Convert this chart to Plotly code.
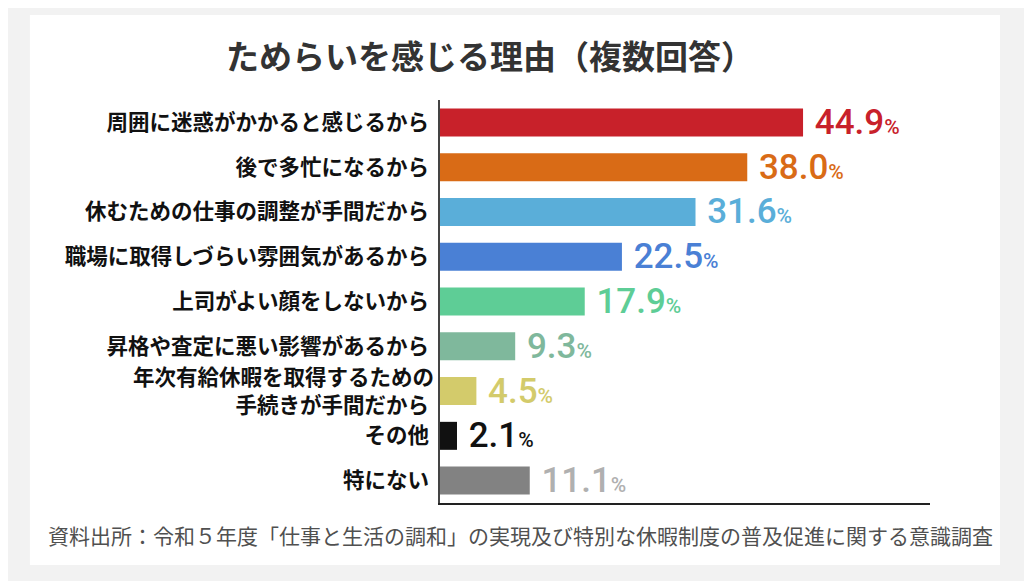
import plotly.graph_objects as go

# reasons (top to bottom) and share of respondents (%)
reasons = [
    "周囲に迷惑がかかると感じるから",
    "後で多忙になるから",
    "休むための仕事の調整が手間だから",
    "職場に取得しづらい雰囲気があるから",
    "上司がよい顔をしないから",
    "昇格や査定に悪い影響があるから",
    "年次有給休暇を取得するための<br>手続きが手間だから",
    "その他",
    "特にない",
]
shares = [44.9, 38.0, 31.6, 22.5, 17.9, 9.3, 4.5, 2.1, 11.1]

bar_colors = ["#c8212a", "#d96b16", "#5aaed9", "#4a80d5", "#5ecd96",
              "#7fb89c", "#d3cb6b", "#111111", "#828282"]
label_colors = ["#c8212a", "#d96b16", "#5aaed9", "#4a80d5", "#5ecd96",
                "#7fb89c", "#d3cb6b", "#111111", "#b0b0b0"]

labels = ["\u00a0{:.1f}<span style='font-size:21px'>%</span>".format(v) for v in shares]

fig = go.Figure()
fig.add_trace(go.Bar(
    x=shares,
    y=reasons,
    orientation="h",
    marker=dict(color=bar_colors, line=dict(width=0)),
    text=labels,
    textposition="outside",
    constraintext="none",
    textfont=dict(family="Roboto, sans-serif", size=35, weight=500, color=label_colors),
    cliponaxis=False,
    hoverinfo="skip",
))

# white card behind the chart
fig.add_shape(type="rect", xref="paper", yref="paper", x0=-0.837, x1=1.143, y0=-0.154, y1=1.211,
              fillcolor="white", line=dict(width=0), layer="below")

fig.add_annotation(text="<b>ためらいを感じる理由（複数回答）</b>", xref="paper", yref="paper",
                   x=0.102, y=1.112, xanchor="center", yanchor="middle", showarrow=False,
                   font=dict(family="Noto Sans CJK JP", size=33, color="#333333"))
fig.add_annotation(text="資料出所：令和５年度「仕事と生活の調和」の実現及び特別な休暇制度の普及促進に関する意識調査",
                   xref="paper", yref="paper", x=0.165, y=-0.079, xanchor="center", yanchor="middle",
                   showarrow=False,
                   font=dict(family="Noto Sans CJK JP", size=21, color="#505050"))

fig.update_xaxes(range=[0, 60.6], showgrid=False, zeroline=False, showticklabels=False,
                 showline=True, linecolor="#222222", linewidth=2, ticks="")
fig.update_yaxes(autorange="reversed", showgrid=False, showline=True, linecolor="#444444",
                 linewidth=1.5, ticks="", ticksuffix=" ",
                 tickfont=dict(family="Noto Sans CJK JP", size=21.5, weight="bold", color="#111111"))

fig.update_layout(
    width=1032, height=581,
    margin=dict(l=432, r=110, t=92, b=86),
    paper_bgcolor="#f2f2f2",
    plot_bgcolor="white",
    bargap=0.375,
    showlegend=False,
    font=dict(family="Noto Sans CJK JP"),
)

fig.write_html("out.html")
